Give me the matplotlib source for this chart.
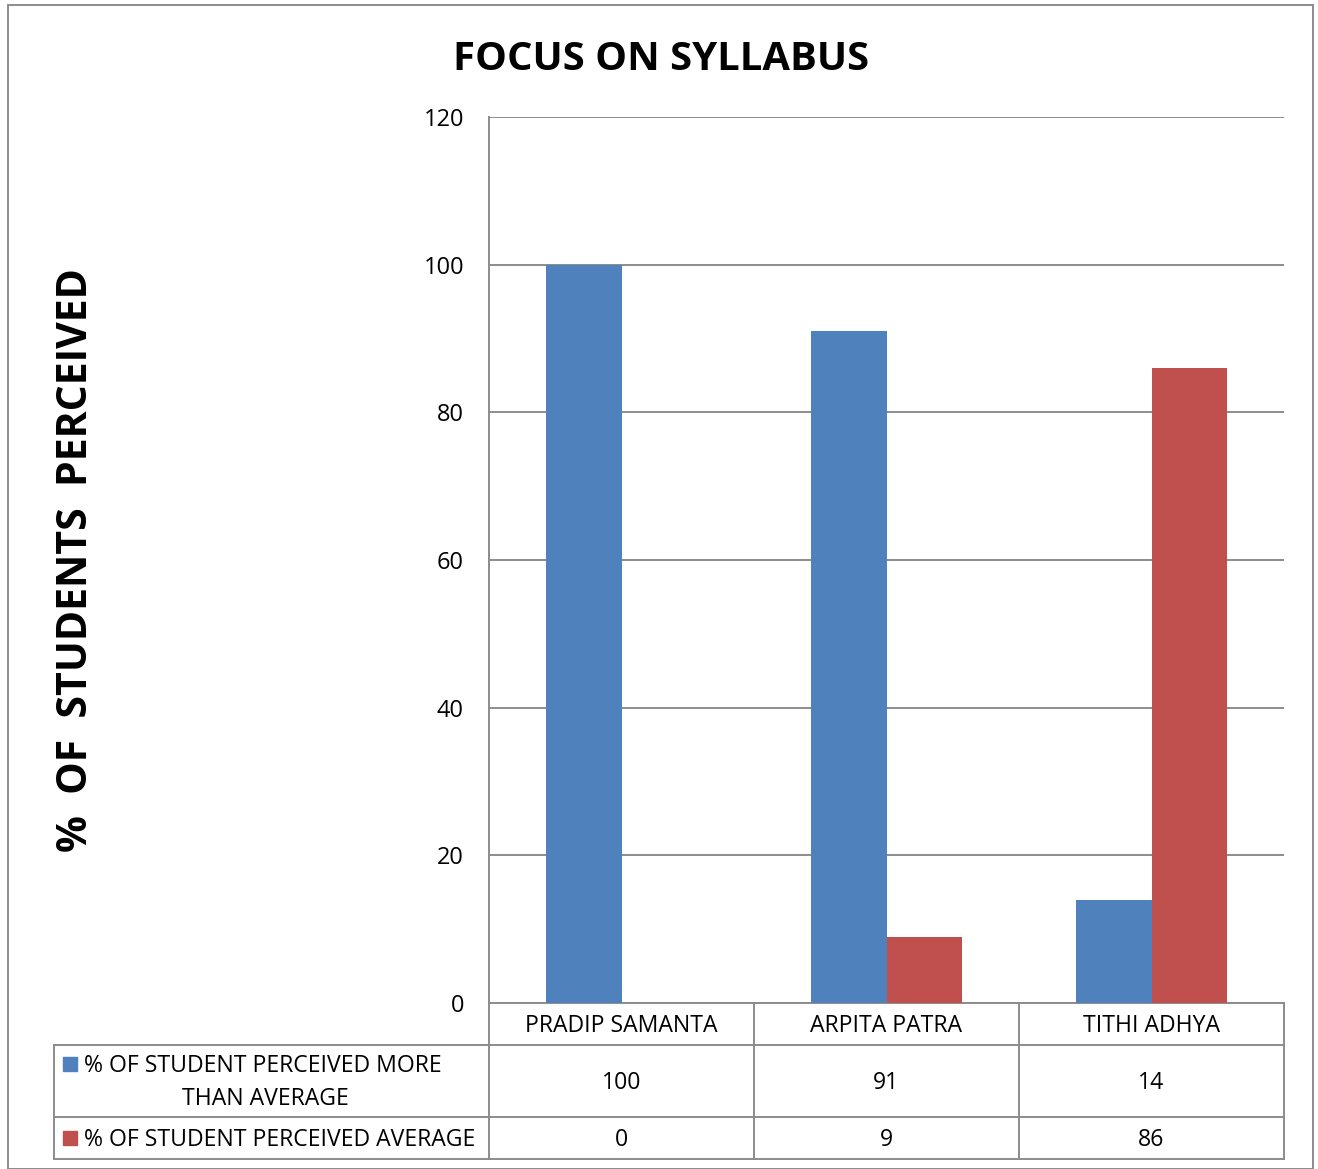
import matplotlib
matplotlib.use("Agg")
import matplotlib.pyplot as plt
from matplotlib.lines import Line2D
from matplotlib.patches import Rectangle

categories = ["PRADIP SAMANTA", "ARPITA PATRA", "TITHI ADHYA"]
series_names = ["% OF STUDENT PERCEIVED MORE\nTHAN AVERAGE", "% OF STUDENT PERCEIVED AVERAGE"]
more_than_avg = [100, 91, 14]
average = [0, 9, 86]
yticks = [0, 20, 40, 60, 80, 100, 120]
colors = ["#4F81BD", "#C0504D"]

plt.rcParams['font.family'] = ['Open Sans', 'DejaVu Sans']
W, H = 1318, 1169
fig = plt.figure(figsize=(W / 100, H / 100), dpi=100)

def fx(px):
    return px / W

def fy(py):
    return 1 - py / H

ax_l, ax_r, ax_t, ax_b = 489, 1284, 117, 1003
ax = fig.add_axes([fx(ax_l), fy(ax_b), fx(ax_r - ax_l), fy(ax_t) - fy(ax_b)])
x = list(range(len(categories)))
bw = 0.285
ax.bar([i - bw / 2 for i in x], more_than_avg, width=bw, color=colors[0], zorder=3)
ax.bar([i + bw / 2 for i in x], average, width=bw, color=colors[1], zorder=3)
ax.set_xlim(-0.5, len(categories) - 0.5)
ax.set_ylim(0, 120)
ax.set_yticks(yticks)
ax.set_yticklabels([str(v) for v in yticks], fontsize=17)
ax.tick_params(axis='y', length=0, pad=18)
ax.set_xticks([])
ax.yaxis.grid(True, color="#8c8c8c", linewidth=1.4, zorder=0)
for s in ["top", "right"]:
    ax.spines[s].set_visible(False)
ax.spines["left"].set_color("#8c8c8c")
ax.spines["left"].set_linewidth(1.4)
ax.spines["bottom"].set_color("#8c8c8c")
ax.spines["bottom"].set_linewidth(1.4)

# Title and y-label
fig.text(fx(661), fy(60), "FOCUS ON SYLLABUS", ha="center", va="center",
         fontsize=28.8, fontweight="bold")
fig.text(fx(77), fy(560), "%  OF  STUDENTS  PERCEIVED", ha="center", va="center",
         rotation=90, fontsize=29.5, fontweight="bold")

# Data table
gc = "#8c8c8c"
lw = 1.4
col_edges = [ax_l, 754, 1019, ax_r]
row_edges = [ax_b, 1045, 1117, 1159]
tbl_left = 54
fs = 16.6
dy = 2

def hline(y, x0, x1):
    fig.add_artist(Line2D([fx(x0), fx(x1)], [fy(y), fy(y)], color=gc, linewidth=lw))

def vline(xp, y0, y1):
    fig.add_artist(Line2D([fx(xp), fx(xp)], [fy(y0), fy(y1)], color=gc, linewidth=lw))

hline(row_edges[1], tbl_left, ax_r)
hline(row_edges[2], tbl_left, ax_r)
hline(row_edges[3], tbl_left, ax_r)
for xp in col_edges:
    vline(xp, row_edges[0], row_edges[3])
vline(tbl_left, row_edges[1], row_edges[3])

for i, c in enumerate(categories):
    cx = (col_edges[i] + col_edges[i + 1]) / 2
    fig.text(fx(cx), fy((row_edges[0] + row_edges[1]) / 2 + dy), c, ha="center", va="center", fontsize=fs)
    fig.text(fx(cx), fy((row_edges[1] + row_edges[2]) / 2 + dy), str(more_than_avg[i]), ha="center", va="center", fontsize=fs)
    fig.text(fx(cx), fy((row_edges[2] + row_edges[3]) / 2 + dy), str(average[i]), ha="center", va="center", fontsize=fs)

# legend keys in table
line1, line2 = series_names[0].split("\n")
fig.add_artist(Rectangle((fx(63), fy(1071)), fx(14), fy(1057) - fy(1071), color=colors[0]))
fig.text(fx(84), fy(1064 + dy), line1, ha="left", va="center", fontsize=fs)
fig.text(fx(265), fy(1097 + dy), line2, ha="center", va="center", fontsize=fs)
fig.add_artist(Rectangle((fx(63), fy(1145)), fx(14), fy(1131) - fy(1145), color=colors[1]))
fig.text(fx(84), fy(1138 + dy), series_names[1], ha="left", va="center", fontsize=fs)

# outer border
fig.add_artist(Rectangle((fx(8), fy(1169)), fx(1313 - 8), fy(5) - fy(1169), fill=False,
                         edgecolor="#8c8c8c", linewidth=1.4))

fig.savefig("out.png", dpi=100)
